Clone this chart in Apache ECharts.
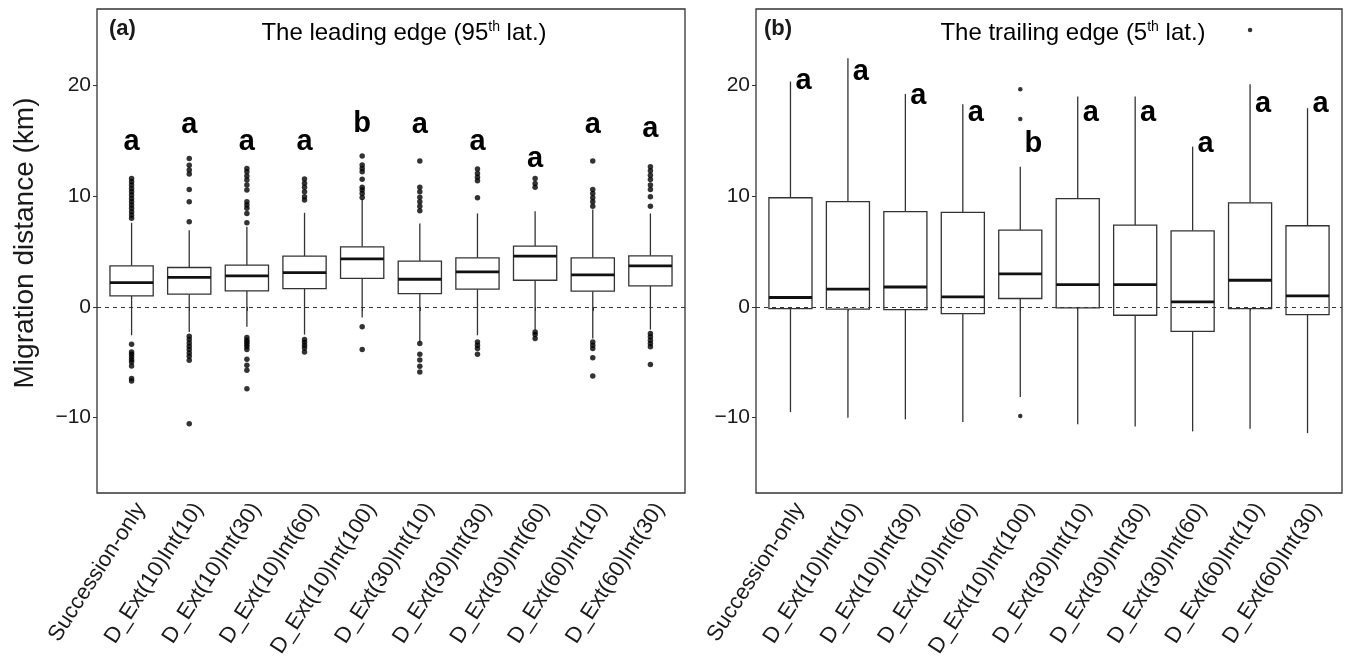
<!DOCTYPE html>
<html><head><meta charset="utf-8">
<script src="https://cdn.jsdelivr.net/npm/echarts@6/dist/echarts.min.js"></script>
<style>html,body{margin:0;padding:0;background:#fff}#c{width:1346px;height:667px}</style>
</head><body><div id="c"></div>
<script>
const categories = ['Succession-only','D_Ext(10)Int(10)','D_Ext(10)Int(30)','D_Ext(10)Int(60)','D_Ext(10)Int(100)','D_Ext(30)Int(10)','D_Ext(30)Int(30)','D_Ext(30)Int(60)','D_Ext(60)Int(10)','D_Ext(60)Int(30)'];
const yTickValues = [-10, 0, 10, 20];

// [lower whisker, Q1, median, Q3, upper whisker]
const leadingBoxes = [
  [-2.56, 1.00, 2.20, 3.71, 7.60],
  [-2.26, 1.15, 2.66, 3.56, 6.93],
  [-1.80, 1.45, 2.80, 3.77, 7.23],
  [-2.50, 1.66, 3.10, 4.58, 8.50],
  [-0.95, 2.57, 4.34, 5.43, 9.74],
  [-3.16, 1.21, 2.50, 4.13, 7.54],
  [-2.56, 1.60, 3.17, 4.43, 8.44],
  [-2.05, 2.41, 4.58, 5.49, 8.65],
  [-2.86, 1.42, 2.90, 4.43, 8.80],
  [-2.05, 1.90, 3.71, 4.61, 8.44]
];
const leadingOutliers = [
  [11.6, 11.3, 11.0, 10.7, 10.4, 10.1, 9.8, 9.5, 9.2, 8.9, 8.6, 8.3, 8.0, -3.37, -4.07, -4.28, -4.52, -4.76, -4.97, -5.33, -6.47, -6.69],
  [13.4, 12.8, 12.36, 12.0, 10.6, 9.5, 7.7, -2.65, -2.95, -3.25, -3.55, -3.85, -4.16, -4.46, -4.82, -10.55],
  [12.51, 12.2, 11.82, 11.45, 11.0, 10.55, 9.5, 9.2, 8.9, 8.44, 7.6, -2.77, -3.0, -3.2, -3.4, -3.6, -3.85, -4.73, -5.27, -5.72, -7.38],
  [11.55, 11.16, 10.8, 10.4, 9.95, 9.65, -2.95, -3.2, -3.45, -3.7, -4.07],
  [13.63, 12.81, 12.51, 12.2, 11.52, 10.8, 10.55, 10.25, 9.89, -1.8, -3.85],
  [13.17, 10.8, 10.4, 9.9, 9.5, 9.1, 8.68, -3.3, -4.27, -4.8, -5.36, -5.87],
  [12.45, 12.05, 11.7, 11.4, 9.86, -3.16, -3.46, -3.76, -4.27],
  [11.6, 11.15, 10.8, -2.26, -2.5, -2.86],
  [13.17, 10.6, 10.25, 9.86, 9.5, 9.1, -3.16, -3.46, -3.76, -4.58, -6.24],
  [12.66, 12.3, 11.9, 11.5, 11.0, 10.6, 9.95, 9.1, -2.4, -2.7, -3.0, -3.3, -3.6, -5.2]
];
const leadingLetters = ['a','a','a','a','b','a','a','a','a','a'];
const leadingLetterY = [14.9, 16.4, 14.9, 14.9, 16.5, 16.4, 14.9, 13.4, 16.4, 16.1];

const trailingBoxes = [
  [-9.50, -0.15, 0.85, 9.86, 20.35],
  [-10.00, -0.20, 1.60, 9.50, 22.46],
  [-10.15, -0.24, 1.80, 8.60, 19.23],
  [-10.40, -0.60, 0.90, 8.53, 18.30],
  [-8.14, 0.76, 2.98, 6.93, 12.66],
  [-10.60, -0.09, 2.02, 9.77, 18.99],
  [-10.80, -0.75, 2.02, 7.39, 19.00],
  [-11.24, -2.20, 0.45, 6.87, 14.47],
  [-11.00, -0.15, 2.41, 9.40, 20.10],
  [-11.39, -0.69, 1.00, 7.33, 17.94]
];
const trailingOutliers = [[], [], [], [], [19.66, 16.97, -9.85], [], [], [], [25.0], []];
const trailingLetters = ['a','a','a','a','b','a','a','a','a','a'];
const trailingLetterY = [20.4, 21.2, 19.0, 17.5, 14.7, 17.55, 17.55, 14.7, 18.3, 18.3];

const FONT = '"Liberation Sans", Arial, Helvetica, sans-serif';
const INK = '#1a1a1a';
const yMin = -16.8, yMax = 26.9;
const catIdx = categories.map((c, i) => i + 1);

function renderBox(params, api) {
  const x = api.value(0);
  const lo = api.coord([x, api.value(1)]);
  const q1 = api.coord([x, api.value(2)]);
  const md = api.coord([x, api.value(3)]);
  const q3 = api.coord([x, api.value(4)]);
  const hi = api.coord([x, api.value(5)]);
  const bw = api.size([0.75, 0])[0];
  const cx = lo[0];
  const st = {stroke: '#333', lineWidth: 1.3};
  return {type: 'group', children: [
    {type: 'line', shape: {x1: cx, y1: q1[1], x2: cx, y2: lo[1]}, style: st},
    {type: 'line', shape: {x1: cx, y1: q3[1], x2: cx, y2: hi[1]}, style: st},
    {type: 'rect', shape: {x: cx - bw / 2, y: q3[1], width: bw, height: q1[1] - q3[1]}, style: {stroke: '#333', lineWidth: 1.3, fill: '#fff'}},
    {type: 'line', shape: {x1: cx - bw / 2, y1: md[1], x2: cx + bw / 2, y2: md[1]}, style: {stroke: '#111', lineWidth: 2.8}}
  ]};
}

function flatten(outs) {
  const pts = [];
  outs.forEach((arr, i) => arr.forEach(v => pts.push([i + 1, v])));
  return pts;
}

function xAxisFor(g) {
  return {
    gridIndex: g, type: 'value', min: 0.4, max: 10.6,
    splitLine: {show: false}, axisLine: {show: false},
    axisTick: {show: true, customValues: catIdx, length: 4, lineStyle: {color: '#333', width: 1}},
    axisLabel: {customValues: catIdx, rotate: 57, margin: 6, verticalAlign: 'top', fontSize: 22, color: INK, fontFamily: FONT,
      formatter: v => categories[Math.round(v) - 1]}
  };
}
function yAxisFor(g) {
  return {
    gridIndex: g, type: 'value', min: yMin, max: yMax,
    splitLine: {show: false}, axisLine: {show: false},
    axisTick: {show: true, customValues: yTickValues, length: 4, lineStyle: {color: '#333', width: 1}},
    axisLabel: {customValues: yTickValues, margin: 6, fontSize: 21, color: INK, fontFamily: FONT,
      formatter: v => String(v).replace('-', '\u2212')}
  };
}

function panelSeries(g, boxes, outs, letters, letterY, letterOffset, dotSize) {
  return [
    {type: 'line', xAxisIndex: g, yAxisIndex: g, data: [], z: 1, silent: true,
      markLine: {silent: true, symbol: 'none', label: {show: false},
        lineStyle: {type: [4, 4], color: '#333', width: 1}, data: [{yAxis: 0}]}},
    {type: 'custom', xAxisIndex: g, yAxisIndex: g, z: 2, renderItem: renderBox,
      encode: {x: 0, y: [1, 2, 3, 4, 5]},
      data: boxes.map((b, i) => [i + 1].concat(b))},
    {type: 'scatter', xAxisIndex: g, yAxisIndex: g, z: 3, symbolSize: dotSize,
      itemStyle: {color: '#000'}, data: flatten(outs)},
    {type: 'scatter', xAxisIndex: g, yAxisIndex: g, z: 4, symbolSize: 1,
      itemStyle: {color: 'rgba(0,0,0,0)'},
      label: {show: true, position: 'inside', offset: [letterOffset, 0], fontSize: 29, fontWeight: 'bold',
        color: '#000', textBorderWidth: 0, opacity: 1, fontFamily: FONT, formatter: p => letters[p.dataIndex]},
      data: letterY.map((v, i) => [i + 1, v])}
  ];
}

const chart = echarts.init(document.getElementById('c'));
const titleRich = {
  m: {fontSize: 24, fontFamily: FONT, color: INK, lineHeight: 26},
  s: {fontSize: 14, fontFamily: FONT, color: INK, lineHeight: 14, verticalAlign: 'top'}
};
chart.setOption({
  backgroundColor: '#fff',
  animation: false,
  grid: [
    {left: 97, top: 9, width: 588, height: 484, show: true, borderColor: '#333', borderWidth: 1.3, backgroundColor: 'transparent'},
    {left: 756, top: 9, width: 586, height: 484, show: true, borderColor: '#333', borderWidth: 1.3, backgroundColor: 'transparent'}
  ],
  xAxis: [xAxisFor(0), xAxisFor(1)],
  yAxis: [yAxisFor(0), yAxisFor(1)],
  graphic: [
    {type: 'text', x: 404, y: 33, style: {text: '{m|The leading edge (95}{s|th}{m| lat.)}', rich: titleRich, align: 'center', verticalAlign: 'middle'}},
    {type: 'text', x: 1073, y: 33, style: {text: '{m|The trailing edge (5}{s|th}{m| lat.)}', rich: titleRich, align: 'center', verticalAlign: 'middle'}},
    {type: 'text', x: 109, y: 29, style: {text: '(a)', font: 'bold 22px ' + FONT, fill: INK, align: 'left', verticalAlign: 'middle'}},
    {type: 'text', x: 764, y: 29, style: {text: '(b)', font: 'bold 22px ' + FONT, fill: INK, align: 'left', verticalAlign: 'middle'}},
    {type: 'text', x: 25, y: 243, rotation: Math.PI / 2, style: {text: 'Migration distance (km)', font: '28px ' + FONT, fill: INK, align: 'center', verticalAlign: 'middle'}}
  ],
  series: [].concat(
    panelSeries(0, leadingBoxes, leadingOutliers, leadingLetters, leadingLetterY, 0, 5.5),
    panelSeries(1, trailingBoxes, trailingOutliers, trailingLetters, trailingLetterY, 13, 4.5)
  )
});
</script>
</body></html>
